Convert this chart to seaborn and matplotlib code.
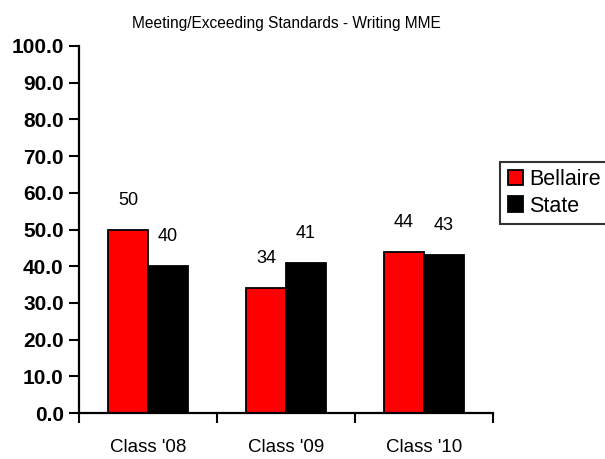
import matplotlib
matplotlib.use("Agg")
import matplotlib.pyplot as plt
import seaborn as sns
import pandas as pd
from matplotlib.ticker import FixedLocator, NullFormatter

categories = ["Class '08", "Class '09", "Class '10"]
bellaire = [50, 34, 44]
state = [40, 41, 43]
series_names = ["Bellaire", "State"]
title = "Meeting/Exceeding Standards - Writing MME"

df = pd.DataFrame({
    "cls": categories * 2,
    "value": bellaire + state,
    "school": [series_names[0]] * 3 + [series_names[1]] * 3,
})

sns.set_theme(style="white")
plt.rcParams["font.family"] = ["Liberation Sans", "DejaVu Sans"]
plt.rcParams["text.color"] = "black"
plt.rcParams["xtick.color"] = "black"
plt.rcParams["ytick.color"] = "black"

fig = plt.figure(figsize=(6.05, 4.59), dpi=100)
ax = fig.add_axes([0.1306, 0.1002, 0.6843, 0.7996])

sns.barplot(data=df, x="cls", y="value", hue="school", order=categories,
            hue_order=series_names, palette=["#ff0000", "#000000"],
            saturation=1, width=0.58, edgecolor="black", linewidth=1.3,
            ax=ax, legend=True)

for container in ax.containers:
    for bar in container:
        h = bar.get_height()
        ax.annotate(f"{h:.0f}", (bar.get_x() + bar.get_width() / 2, h),
                    xytext=(0, 15), textcoords="offset points",
                    ha="center", va="bottom", fontsize=13, color="black")

ax.set_ylim(0, 100)
ax.set_xlim(-0.5, 2.5)
ax.set_yticks(range(0, 101, 10))
ax.set_yticklabels([f"{v:.1f}" for v in range(0, 101, 10)],
                   fontsize=15, fontweight="bold")

# category boundaries get the tick marks, centers get the labels
ax.xaxis.set_major_locator(FixedLocator([-0.5, 0.5, 1.5, 2.5]))
ax.xaxis.set_major_formatter(NullFormatter())
ax.xaxis.set_minor_locator(FixedLocator([0, 1, 2]))
ax.set_xticklabels(categories, minor=True, fontsize=13.5)
ax.tick_params(axis="x", which="major", direction="out", length=7,
               width=1.5, color="black", bottom=True)
ax.tick_params(axis="x", which="minor", length=0, pad=19, bottom=True)
ax.tick_params(axis="y", direction="out", length=7, width=1.5,
               color="black", left=True, pad=4)

ax.set_xlabel("")
ax.set_ylabel("")
for side in ["top", "right"]:
    ax.spines[side].set_visible(False)
for side in ["left", "bottom"]:
    ax.spines[side].set_color("black")
    ax.spines[side].set_linewidth(1.6)

ax.set_title(title, fontsize=11.2, pad=13, color="black")

leg = ax.legend(loc="upper left", bbox_to_anchor=(1.017, 0.685),
                frameon=True, fancybox=False, fontsize=15.5,
                handlelength=0.7, handleheight=0.7, handletextpad=0.3,
                borderpad=0.35, labelspacing=0.25, borderaxespad=0)
leg.get_frame().set_edgecolor("black")
leg.get_frame().set_linewidth(1.5)

fig.savefig("out.png", dpi=100)
